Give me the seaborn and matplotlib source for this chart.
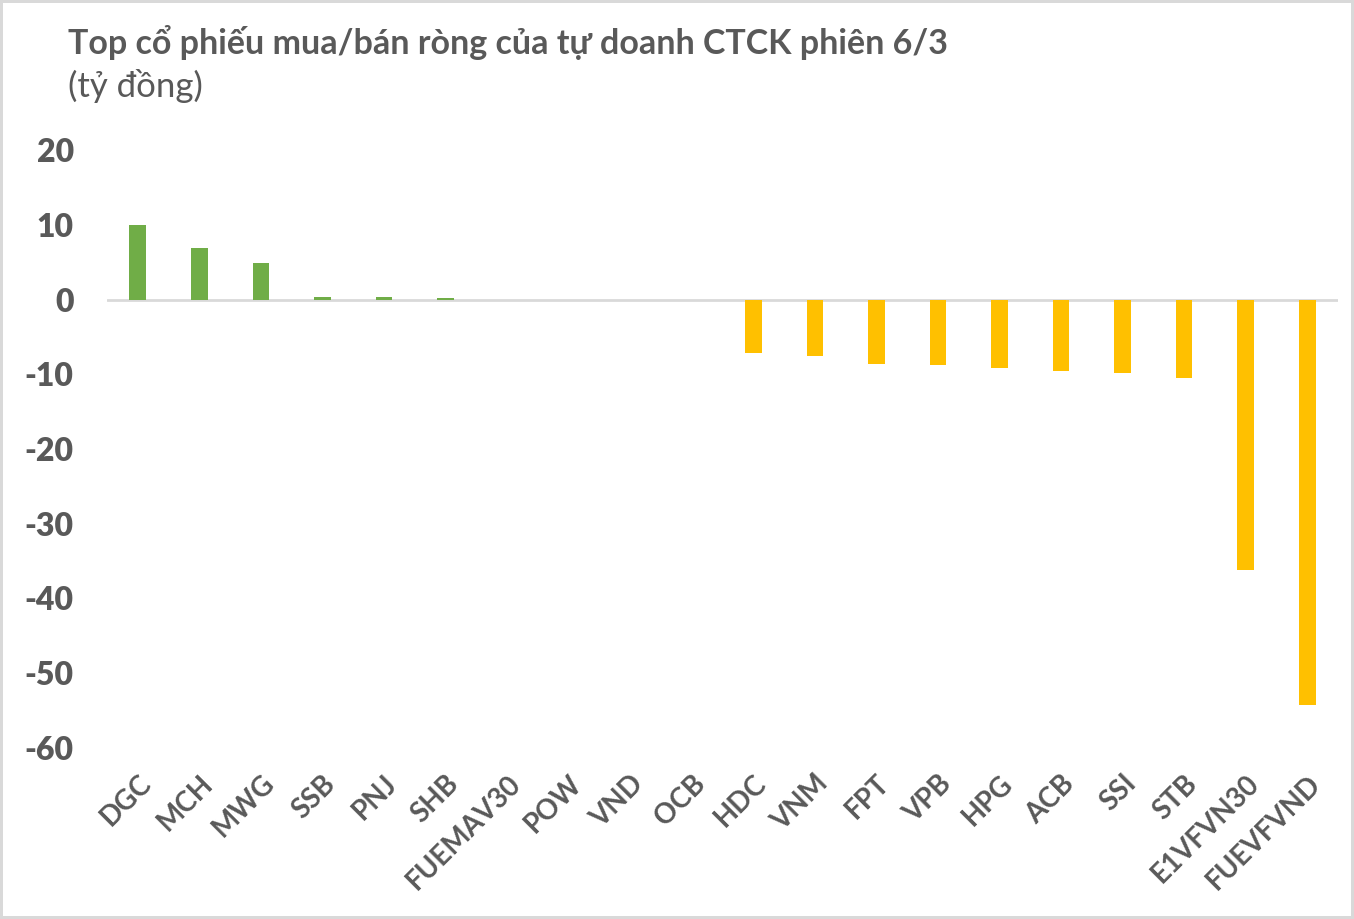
import numpy as np
import pandas as pd
import matplotlib
matplotlib.use('Agg')
import matplotlib.pyplot as plt
import seaborn as sns

# Data (ty dong)
tickers = ['DGC', 'MCH', 'MWG', 'SSB', 'PNJ', 'SHB', 'FUEMAV30', 'POW', 'VND', 'OCB',
           'HDC', 'VNM', 'FPT', 'VPB', 'HPG', 'ACB', 'SSI', 'STB', 'E1VFVN30', 'FUEVFVND']
values = [10.0, 6.9, 4.9, 0.35, 0.35, 0.2, 0.0, 0.0, 0.0, 0.0,
          -7.1, -7.5, -8.6, -8.8, -9.2, -9.5, -9.8, -10.5, -36.2, -54.2]
y_ticks = [20, 10, 0, -10, -20, -30, -40, -50, -60]

title = 'Top cổ phiếu mua/bán ròng của tự doanh CTCK phiên 6/3'
subtitle = '(tỷ đồng)'

df = pd.DataFrame({'ticker': tickers, 'value': values})
df['side'] = np.where(df['value'] >= 0, 'mua', 'ban')

sns.set_style('white')
plt.rcParams['font.family'] = ['Lato', 'DejaVu Sans']
plt.rcParams['axes.unicode_minus'] = False

text_color = '#595959'

fig = plt.figure(figsize=(13.54, 9.19), dpi=100)
fig.patch.set_edgecolor('#d9d9d9')
fig.patch.set_linewidth(3)
ax = fig.add_axes([107 / 1354, 1 - 748 / 919, (1338 - 107) / 1354, (748 - 150) / 919])

sns.barplot(data=df, x='ticker', y='value', hue='side',
            palette={'mua': '#70ad47', 'ban': '#ffc000'}, saturation=1,
            dodge=False, width=0.27, legend=False, linewidth=0, ax=ax)

ax.axhline(0, color='#d9d9d9', lw=2, zorder=0)
ax.set_xlim(-0.5, 19.5)
ax.set_ylim(-60, 20)
ax.set_yticks(y_ticks)
ax.set_xlabel('')
ax.set_ylabel('')
sns.despine(ax=ax, left=True, bottom=True)

ax.tick_params(axis='y', length=0, pad=24, labelsize=23, labelcolor=text_color)
ax.tick_params(axis='x', length=0, pad=16, labelsize=20, labelcolor=text_color)
for lbl in ax.get_yticklabels():
    lbl.set_fontweight('heavy')
for lbl in ax.get_xticklabels():
    lbl.set_fontweight('bold')
    lbl.set_rotation(45)
    lbl.set_ha('right')
    lbl.set_rotation_mode('anchor')

fig.text(68 / 1354, 1 - 42 / 919, title, fontsize=24.5, fontweight='bold',
         color=text_color, va='center', ha='left')
fig.text(68 / 1354, 1 - 86 / 919, subtitle, fontsize=25,
         color=text_color, va='center', ha='left')

fig.savefig('out.png', dpi=100, edgecolor=fig.get_edgecolor())
